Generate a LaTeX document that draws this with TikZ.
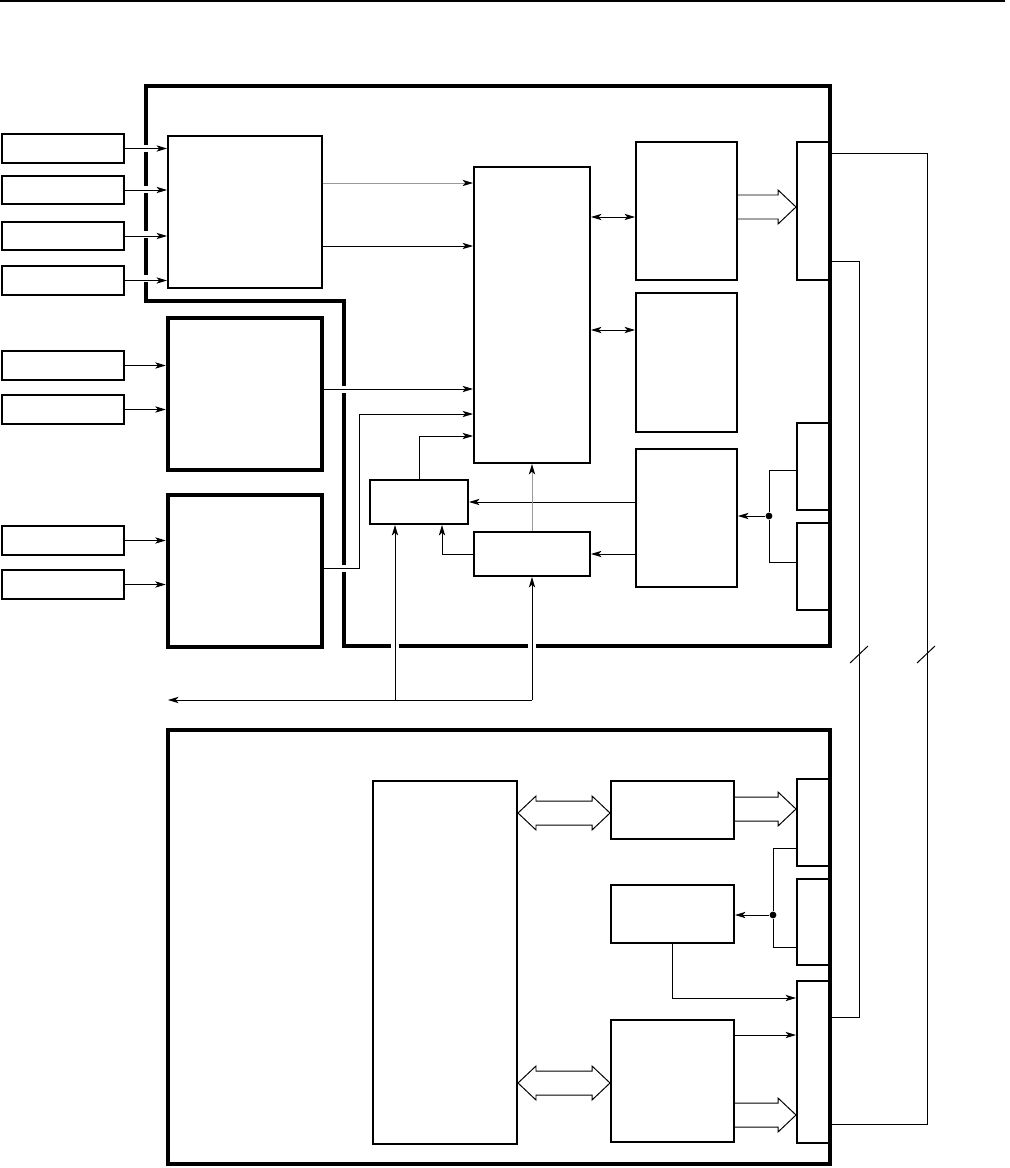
\documentclass[tikz,border=0pt]{standalone}
\usepackage{tikz}
\usetikzlibrary{positioning, arrows.meta, calc, fit}

% wide bus arrows, drawn between two coordinates on one row
\newcommand{\fatarr}[2]{%
  \draw[fat] ($(#1)+(0,-12)$) -- ($(#2)+(-18,-12)$) -- ($(#2)+(-18,-17)$) -- (#2)
    -- ($(#2)+(-18,17)$) -- ($(#2)+(-18,12)$) -- ($(#1)+(0,12)$);}
\newcommand{\fatdbl}[2]{%
  \draw[fat] (#1) -- ($(#1)+(18,-17)$) -- ($(#1)+(18,-12)$) -- ($(#2)+(-18,-12)$)
    -- ($(#2)+(-18,-17)$) -- (#2) -- ($(#2)+(-18,17)$) -- ($(#2)+(-18,12)$)
    -- ($(#1)+(18,12)$) -- ($(#1)+(18,17)$) -- cycle;}

\begin{document}
\begin{tikzpicture}[
    x=0.025cm, y=-0.025cm,
    blk/.style={draw, line width=1.4pt, inner sep=0pt},
    heavy/.style={draw, line width=3.2pt, inner sep=0pt},
    frame/.style={line width=3pt, line join=miter},
    plain/.style={line width=0.7pt},
    wire/.style={line width=0.7pt, -{Stealth[length=7.5pt, width=4.5pt, inset=2pt]}},
    dwire/.style={line width=0.7pt, {Stealth[length=7.5pt, width=4.5pt, inset=2pt]}-{Stealth[length=7.5pt, width=4.5pt, inset=2pt]}},
    faint/.style={draw=black!40, -{Stealth[length=7.5pt, width=4.5pt, inset=2pt, color=black]}},
    fat/.style={line width=0.7pt, line join=miter},
    dot/.style={circle, fill, inner sep=0pt, minimum size=0.17cm}
    ]
    \useasboundingbox (0,0) rectangle (1009,1168);

    % --- page rule ---
    \draw[line width=1.1pt] (0,1) -- (1005,1);

    % --- input boxes ---
    \foreach \n/\t/\b in {1/134/163, 2/176/204, 3/222/250, 4/266/295,
                          5/351/380, 6/395/424, 7/526/555, 8/570/599}
      \node[blk, fit={(2,\t) (124,\b)}] (in\n) {};

    % --- upper board ---
    \node[blk, fit={(168,136) (322,288)}] (adc) {};
    \node[heavy, fit={(168,318) (322,470)}] (mux) {};
    \node[heavy, fit={(168,495) (322,647)}] (dem) {};
    \node[blk, fit={(474,167) (590,463)}] (cpu) {};
    \node[blk, fit={(636,142) (737,280)}] (mem1) {};
    \node[blk, fit={(636,293) (737,432)}] (mem2) {};
    \node[blk, fit={(636,449) (737,587)}] (io) {};
    \node[blk, fit={(370,480) (468,524)}] (lat) {};
    \node[blk, fit={(474,532) (590,576)}] (tmr) {};
    \node[blk, fit={(797,142) (830,280)}] (p1) {};
    \node[blk, fit={(797,423) (830,510)}] (p2) {};
    \node[blk, fit={(797,523) (830,610)}] (p3) {};

    % --- lower board ---
    \node[blk, fit={(373,781) (517,1144)}] (ctl) {};
    \node[blk, fit={(611,781) (734,839)}] (h1) {};
    \node[blk, fit={(611,885) (734,943)}] (h2) {};
    \node[blk, fit={(611,1020) (734,1142)}] (h3) {};
    \node[blk, fit={(797,779) (830,866)}] (p4) {};
    \node[blk, fit={(797,879) (830,965)}] (p5) {};
    \node[blk, fit={(797,981) (830,1143)}] (p6) {};

    % --- board outlines ---
    \draw[frame] (146,86) -- (830,86) -- (830,646) -- (344,646) -- (344,301) -- (146,301) -- cycle;
    \draw[frame] (168,730) rectangle (830,1164);

    % breaks where wires pass the outline
    \foreach \gx/\gy in {146/149, 146/190, 146/235, 146/279, 344/389, 344/568, 395/646, 532/646}
      \fill[white] (\gx-4,\gy-3.5) rectangle (\gx+4,\gy+3.5);

    % --- inputs ---
    \foreach \n in {1,...,4}
      \draw[wire] (in\n.east) -- (in\n.east -| adc.west);
    \foreach \n in {5,6}
      \draw[wire] (in\n.east) -- (in\n.east -| mux.west);
    \foreach \n in {7,8}
      \draw[wire] (in\n.east) -- (in\n.east -| dem.west);

    % --- into the processor ---
    \draw[wire, faint] (adc.east |- 0,183) -- (cpu.west |- 0,183);
    \draw[wire] (adc.east |- 0,246) -- (cpu.west |- 0,246);
    \draw[wire] (mux.east |- 0,389) -- (cpu.west |- 0,389);
    \draw[wire] (dem.east |- 0,568) -| (359,414) -- (cpu.west |- 0,414);
    \draw[dwire] (cpu.east |- 0,217) -- (mem1.west |- 0,217);
    \draw[dwire] (cpu.east |- 0,330) -- (mem2.west |- 0,330);
    \draw[wire] (lat.north) |- (cpu.west |- 0,436);
    \draw[wire] (lat.east -| io.west) -- (lat.east);
    \draw[wire] (tmr.east -| io.west) -- (tmr.east);
    \draw[wire, faint] (tmr.north) -- (cpu.south);
    \draw[wire] (tmr.west) -| ($(lat.south)+(23,0)$);

    % --- bus leaving the board ---
    \coordinate (busl) at (168,700);
    \coordinate (busa) at (395,700);
    \coordinate (busb) at (532,700);
    \draw[wire] (busa) -- (busa |- lat.south);
    \draw[wire] (busb) -- (tmr.south);
    \draw[wire] (busb) -- (busl);

    % --- ports of the upper board ---
    \coordinate (fa1) at (mem1.east |- 0,207);
    \coordinate (fa2) at (p1.west |- 0,207);
    \fatarr{fa1}{fa2}
    \node[dot] (j1) at (769,516) {};
    \draw[plain] (p2.west |- 0,470) -| (j1) |- (p3.west |- 0,562);
    \draw[wire] (j1) -- (j1 -| io.east);

    % --- cables between the boards ---
    \draw[plain] (p1.east |- 0,153) -- (927,153) -- (927,1124) -- (p6.east |- 0,1124);
    \draw[plain] (p1.east |- 0,261) -- (859,261) -- (859,1017) -- (p6.east |- 0,1017);
    \draw[plain] (850,663) -- (868,646);
    \draw[plain] (917,663) -- (935,646);

    % --- lower board wiring ---
    \coordinate (fb1) at (ctl.east |- 0,813);
    \coordinate (fb2) at (h1.west |- 0,813);
    \fatdbl{fb1}{fb2}
    \coordinate (fc1) at (ctl.east |- 0,1083);
    \coordinate (fc2) at (h3.west |- 0,1083);
    \fatdbl{fc1}{fc2}
    \coordinate (fd1) at (h1.east |- 0,809);
    \coordinate (fd2) at (p4.west |- 0,809);
    \fatarr{fd1}{fd2}
    \coordinate (fe1) at (h3.east |- 0,1115);
    \coordinate (fe2) at (p6.west |- 0,1115);
    \fatarr{fe1}{fe2}
    \draw[wire] (h3.east |- 0,1035) -- (p6.west |- 0,1035);
    \draw[wire] (h2.south) |- (p6.west |- 0,998);
    \node[dot] (j2) at (773,915) {};
    \draw[plain] (p4.west |- 0,848) -| (j2) |- (p5.west |- 0,947);
    \draw[wire] (j2) -- (j2 -| h2.east);

\end{tikzpicture}
\end{document}
